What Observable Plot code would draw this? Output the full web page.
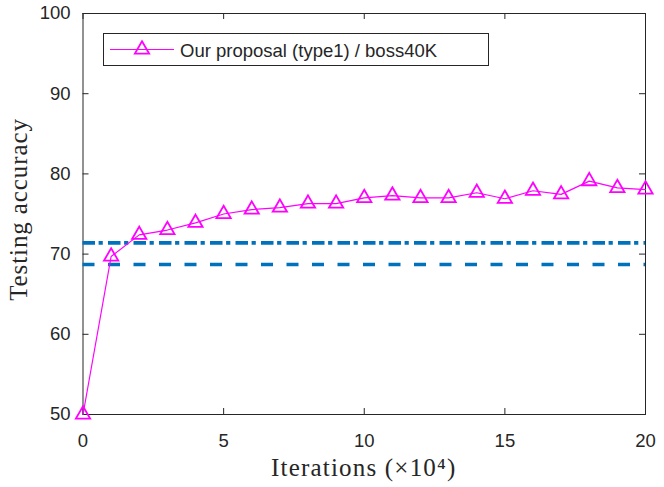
<!DOCTYPE html>
<html>
<head>
<meta charset="utf-8">
<script src="https://cdn.jsdelivr.net/npm/d3@7"></script>
<script src="https://cdn.jsdelivr.net/npm/@observablehq/plot@0.6"></script>
<style>
  html, body { margin: 0; padding: 0; background: #fff; }
  #chart { width: 664px; height: 487px; }
</style>
</head>
<body>
<div id="chart"></div>
<script>
// ---- data ----
const iterations = [0,1,2,3,4,5,6,7,8,9,10,11,12,13,14,15,16,17,18,19,20];
const accuracy = [50, 69.7, 72.4, 73.0, 73.9, 75.0, 75.55, 75.8, 76.3, 76.3, 77.0, 77.3, 77.0, 77.0, 77.65, 76.9, 77.9, 77.45, 79.1, 78.25, 78.05];
const dashDotLevel = [71.4];
const dashedLevel = [68.7];
const xTicks = [0, 5, 10, 15, 20];
const yTicks = [50, 60, 70, 80, 90, 100];
const seriesName = "Our proposal (type1) / boss40K";
const xTitle = "Iterations (×10⁴)";
const yTitle = "Testing accuracy";

const W = 664, H = 487;
const mL = 82.5, mR = 19, mT = 13, mB = 73;
const plotW = W - mL - mR, plotH = H - mT - mB;
const tick = 6;
const axisColor = "#262626";
const magenta = "#ff00ff";
const blue = "#0072BD";

const data = iterations.map((x, i) => ({x, y: accuracy[i]}));

const svg = Plot.plot({
  width: W,
  height: H,
  marginLeft: mL, marginRight: mR, marginTop: mT, marginBottom: mB,
  style: {fontFamily: "'Liberation Sans', Arial, sans-serif", fontSize: "18.5px", color: axisColor, background: "#fff"},
  x: {domain: [0, 20]},
  y: {domain: [50, 100]},
  marks: [
    Plot.axisX({ticks: xTicks, tickSize: 0, tickPadding: 19, label: null, tickFormat: d => String(d)}),
    Plot.axisY({ticks: yTicks, tickSize: 0, tickPadding: 12.5, label: null, tickFormat: d => String(d)}),
    // inward ticks (bottom, top, left, right)
    Plot.ruleX(xTicks, {x: d => d, insetTop: plotH - tick, stroke: axisColor, strokeWidth: 1}),
    Plot.ruleX(xTicks, {x: d => d, insetBottom: plotH - tick, stroke: axisColor, strokeWidth: 1}),
    Plot.ruleY(yTicks, {y: d => d, insetRight: plotW - tick, stroke: axisColor, strokeWidth: 1}),
    Plot.ruleY(yTicks, {y: d => d, insetLeft: plotW - tick, stroke: axisColor, strokeWidth: 1}),
    Plot.frame({stroke: axisColor, strokeWidth: 1}),
    // reference lines
    Plot.ruleY(dashDotLevel, {y: d => d, stroke: blue, strokeWidth: 3.6, strokeDasharray: "12.5,3.6,4.2,5.2"}),
    Plot.ruleY(dashedLevel, {y: d => d, stroke: blue, strokeWidth: 3.6, strokeDasharray: "12,13.5"}),
    // series
    Plot.line(data, {x: "x", y: "y", stroke: magenta, strokeWidth: 1.2}),
    Plot.dot(data, {x: "x", y: "y", symbol: "triangle", r: 5.3, stroke: magenta, strokeWidth: 1.8, fill: "none"})
  ]
});

document.getElementById("chart").appendChild(svg);

const root = d3.select(svg);

// axis titles
root.append("text")
  .attr("x", mL + plotW / 2)
  .attr("y", 476)
  .attr("text-anchor", "middle")
  .attr("font-family", "'Liberation Serif', 'Times New Roman', serif")
  .attr("font-size", 25)
  .attr("letter-spacing", 1.2)
  .attr("fill", axisColor)
  .text(xTitle);

root.append("text")
  .attr("transform", `translate(27,${mT + plotH / 2 - 4}) rotate(-90)`)
  .attr("text-anchor", "middle")
  .attr("font-family", "'Liberation Serif', 'Times New Roman', serif")
  .attr("font-size", 25)
  .attr("letter-spacing", 0.9)
  .attr("fill", axisColor)
  .text(yTitle);

// legend
const lg = root.append("g").attr("class", "legend");
lg.append("rect")
  .attr("x", 103.5).attr("y", 33.5).attr("width", 385).attr("height", 32)
  .attr("fill", "#fff").attr("stroke", axisColor).attr("stroke-width", 1);
lg.append("line")
  .attr("x1", 110).attr("x2", 174).attr("y1", 49.5).attr("y2", 49.5)
  .attr("stroke", magenta).attr("stroke-width", 1.2);
lg.append("path")
  .attr("transform", "translate(142,49.5)")
  .attr("d", d3.symbol(d3.symbolTriangle, Math.PI * 5.3 * 5.3)())
  .attr("fill", "none").attr("stroke", magenta).attr("stroke-width", 1.8);
lg.append("text")
  .attr("x", 180).attr("y", 56.5)
  .attr("text-anchor", "start")
  .attr("font-family", "'Liberation Sans', Arial, sans-serif")
  .attr("font-size", 18.5)
  .attr("fill", axisColor)
  .text(seriesName);
</script>
</body>
</html>
